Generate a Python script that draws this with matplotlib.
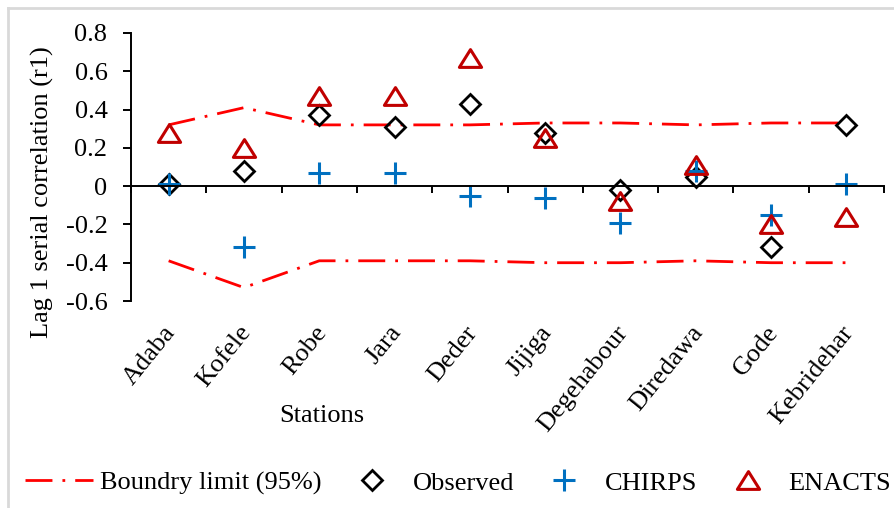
import numpy as np
import matplotlib
matplotlib.use('Agg')
import matplotlib.pyplot as plt
from matplotlib.lines import Line2D
from matplotlib.path import Path

stations = ['Adaba', 'Kofele', 'Robe', 'Jara', 'Deder', 'Jijiga',
            'Degehabour', 'Diredawa', 'Gode', 'Kebridehar']
upper_limit = [0.32, 0.41, 0.32, 0.32, 0.32, 0.33, 0.33, 0.32, 0.33, 0.33]
lower_limit = [-0.39, -0.53, -0.39, -0.39, -0.39, -0.40, -0.40, -0.39, -0.40, -0.40]
observed = [0.01, 0.08, 0.37, 0.31, 0.43, 0.28, -0.02, 0.05, -0.32, 0.32]
chirps = [0.01, -0.32, 0.07, 0.07, -0.05, -0.06, -0.19, 0.08, -0.15, 0.01]
enacts = [0.28, 0.20, 0.47, 0.47, 0.67, 0.25, -0.08, 0.11, -0.20, -0.16]
yticks = [-0.6, -0.4, -0.2, 0, 0.2, 0.4, 0.6, 0.8]

plt.rcParams['font.family'] = ['Liberation Serif', 'DejaVu Serif']
plt.rcParams['font.size'] = 19

RED = '#FF0000'
DARKRED = '#C00000'
BLUE = '#0070C0'
dash = (9.7, 3.6, 1, 3.6)
# wide, flat triangle like the spreadsheet marker
tri = Path([(-1, -0.8), (1, -0.8), (0, 0.8), (-1, -0.8)],
           [Path.MOVETO, Path.LINETO, Path.LINETO, Path.CLOSEPOLY])

fig = plt.figure(figsize=(8.94, 5.08), dpi=100)
ax = fig.add_axes([131/894, 1-301/508, (884-131)/894, (301-33)/508])

x = np.arange(len(stations))
ax.plot(x, upper_limit, color=RED, lw=2, dashes=dash)
ax.plot(x, lower_limit, color=RED, lw=2, dashes=dash)
ax.plot(x, observed, ls='none', marker='D', ms=9.7, mfc='none', mec='black', mew=2)
ax.plot(x, chirps, ls='none', marker='+', ms=16, mec=BLUE, mew=2.2)
ax.plot(x, enacts, ls='none', marker=tri, ms=16, mfc='none', mec=DARKRED, mew=2.2)

ax.set_xlim(-0.5, len(stations) - 0.5)
ax.set_ylim(-0.6, 0.8)
ax.set_yticks(yticks)
ax.set_yticklabels(['-0.6', '-0.4', '-0.2', '0', '0.2', '0.4', '0.6', '0.8'])
ax.set_xticks(np.arange(-0.5, len(stations), 1))
ax.set_xticklabels([])

for s in ['top', 'right']:
    ax.spines[s].set_visible(False)
ax.spines['bottom'].set_position(('data', 0))
ax.spines['left'].set_linewidth(1.4)
ax.spines['bottom'].set_linewidth(1.4)
ax.tick_params(axis='y', direction='out', length=6, width=1.4, pad=11)
ax.tick_params(axis='x', direction='out', length=5, width=1.4)

for i, name in enumerate(stations):
    ax.annotate(name, xy=(i, -0.6), xytext=(-4, -15), textcoords='offset points',
                rotation=51, ha='right', va='top', rotation_mode='anchor',
                annotation_clip=False)

fig.text(322/894, 1-416/508, 'Stations', ha='center', va='center')
fig.text(42/894, 1-192/508, 'Lag 1 serial correlation (r1)', rotation=90,
         ha='center', va='center')

handles = [
    Line2D([], [], color=RED, lw=2, dashes=dash),
    Line2D([], [], ls='none', marker='D', ms=9.7, mfc='none', mec='black', mew=2),
    Line2D([], [], ls='none', marker='+', ms=16, mec=BLUE, mew=2.2),
    Line2D([], [], ls='none', marker=tri, ms=16, mfc='none', mec=DARKRED, mew=2.2),
]
labels = ['Boundry limit (95%)', 'Observed', 'CHIRPS', 'ENACTS']
fig.legend(handles, labels, loc='center', bbox_to_anchor=(458/894, 1-483/508),
           ncol=4, frameon=False, handlelength=2.6, handletextpad=0.25,
           columnspacing=0.6, borderpad=0)

# chart border
fig.add_artist(Line2D([8/894, 1], [1-8/508, 1-8/508], color='#D9D9D9', lw=2))
fig.add_artist(Line2D([8/894, 8/894], [0, 1-8/508], color='#D9D9D9', lw=2))

fig.savefig('out.png', dpi=100)
